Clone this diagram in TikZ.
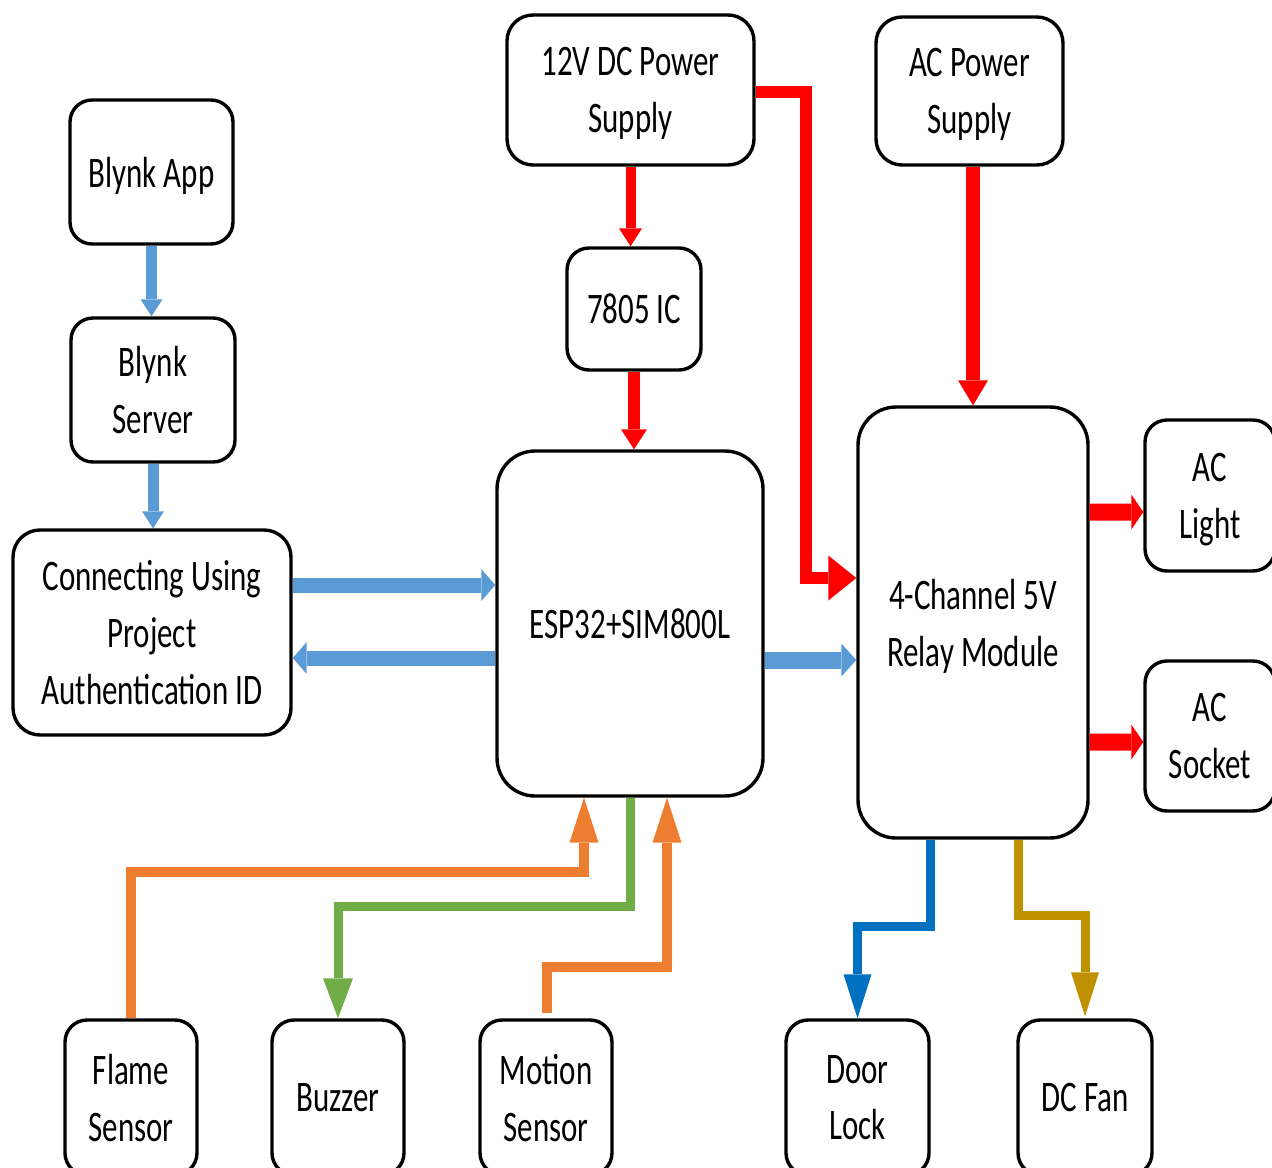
\documentclass[tikz,border=0pt]{standalone}
\usepackage{fontspec}
\setmainfont{Carlito}[FakeStretch=0.71]
\usetikzlibrary{arrows.meta,calc}
\definecolor{cloud}{RGB}{91,155,213}
\definecolor{power}{RGB}{255,0,0}
\definecolor{sense}{RGB}{237,125,49}
\definecolor{alarm}{RGB}{112,173,71}
\definecolor{lockc}{RGB}{0,112,192}
\definecolor{fanc}{RGB}{191,144,0}
\tikzset{
  box/.style={draw=black, line width=0.17cm, rounded corners=1.1cm, align=center,
    inner sep=0pt, text depth=0pt, font=\fontsize{62}{81}\selectfont},
  bigbox/.style={box, rounded corners=1.9cm},
  wire/.style n args={4}{draw=#1, line width=#2,
    -{Triangle[width=#3,length=#4,line width=0pt]}}
}

\begin{document}
\begin{tikzpicture}[x=0.05cm,y=-0.05cm]
  \useasboundingbox (0,0) rectangle (1272,1168);
  \clip (0,0) rectangle (1272,1168);
  % cloud side
  \node[box, minimum width=8.15cm, minimum height=7.2cm] (app) at (151.5,172) {Blynk App};
  \node[box, minimum width=8.2cm, minimum height=7.2cm] (server) at (153,390) {Blynk\\Server};
  \node[box, rounded corners=1.35cm, minimum width=13.9cm, minimum height=10.25cm] (conn) at (152,632.5)
     {Connecting Using\\Project\\Authentication ID};
  % supply and controller
  \node[box, rounded corners=1.3cm, minimum width=12.35cm, minimum height=7.5cm] (dcps) at (630.5,90)
     {12V DC Power\\Supply};
  \node[box, minimum width=6.7cm, minimum height=6.1cm] (reg) at (634,309) {7805 IC};
  \node[bigbox, minimum width=13.3cm, minimum height=17.25cm] (esp) at (630,623.5) {ESP32+SIM800L};
  \node[box, rounded corners=1.3cm, minimum width=9.35cm, minimum height=7.4cm] (acps) at (969.5,91)
     {AC Power\\Supply};
  \node[bigbox, minimum width=11.5cm, minimum height=21.55cm] (relay) at (973,622.5)
     {4-Channel 5V\\Relay Module};
  \node[box, minimum width=6.5cm, minimum height=7.55cm] (light) at (1210,495.5) {AC\\Light};
  \node[box, minimum width=6.5cm, minimum height=7.5cm] (socket) at (1210,736) {AC\\Socket};
  % bottom row
  \foreach \n/\x/\w/\t in {flame/131/6.6/{Flame\\Sensor}, buzzer/338/6.6/{Buzzer},
      motion/546/6.6/{Motion\\Sensor}, door/857.5/7.15/{Door\\Lock}, fan/1085/6.7/{DC Fan}}{
    \node[box, minimum width=\w cm, minimum height=7.75cm] (\n) at (\x,1097.5) {\t};
  }

  % blynk chain
  \draw[wire={cloud}{0.55cm}{1.1cm}{0.85cm}] (app.south) -- (app.south |- server.north);
  \draw[wire={cloud}{0.55cm}{1.1cm}{0.85cm}] (server.south) -- (server.south |- conn.north);
  \draw[wire={cloud}{0.75cm}{1.6cm}{0.7cm}] ($(conn.east)+(0,-47.5)$) -- ($(esp.west)+(0,-38.5)$);
  \draw[wire={cloud}{0.75cm}{1.6cm}{0.7cm}] ($(esp.west)+(0,34.5)$) -- ($(conn.east)+(0,25.5)$);
  \draw[wire={cloud}{0.85cm}{1.65cm}{0.75cm}] ($(esp.east)+(0,36.5)$) -- ($(relay.west)+(0,37.5)$);

  % power lines
  \draw[wire={power}{0.5cm}{1.15cm}{0.9cm}] (dcps.south) -- (dcps.south |- reg.north);
  \draw[wire={power}{0.6cm}{1.3cm}{1.0cm}] (reg.south) -- (reg.south |- esp.north);
  \draw[wire={power}{0.6cm}{2.25cm}{1.4cm}] ($(dcps.east)+(0,2)$) -| ($(relay.west)+(-50,-44.5)$)
     -- ($(relay.west)+(0,-44.5)$);
  \draw[wire={power}{0.7cm}{1.5cm}{1.25cm}] (acps.south -| relay.north) -- (relay.north);
  \draw[wire={power}{0.85cm}{1.75cm}{0.6cm}] ($(relay.east)+(0,-110.5)$) -- ($(light.west)+(0,16.5)$);
  \draw[wire={power}{0.85cm}{1.75cm}{0.6cm}] ($(relay.east)+(0,119.5)$) -- ($(socket.west)+(0,6)$);

  % sensors and loads
  \draw[wire={sense}{0.5cm}{1.45cm}{2.25cm}] (flame.north) |- ($(esp.south)+(-46,74)$)
     -- ($(esp.south)+(-46,0)$);
  \draw[wire={alarm}{0.45cm}{1.5cm}{2.0cm}] (esp.south) |- ($(buzzer.north)+(0,-112)$) -- (buzzer.north);
  \draw[wire={sense}{0.5cm}{1.45cm}{2.25cm}] ($(motion.north)+(1,-5)$) |- ($(esp.south)+(37,169)$)
     -- ($(esp.south)+(37,0)$);
  \draw[wire={lockc}{0.45cm}{1.4cm}{2.2cm}] ($(relay.south)+(-43,0)$) |- ($(door.north)+(0,-92)$)
     -- (door.north);
  \draw[wire={fanc}{0.45cm}{1.4cm}{2.2cm}] ($(relay.south)+(45,0)$) |- ($(fan.north)+(0,-103)$)
     -- ($(fan.north)+(0,-2)$);
\end{tikzpicture}
\end{document}
